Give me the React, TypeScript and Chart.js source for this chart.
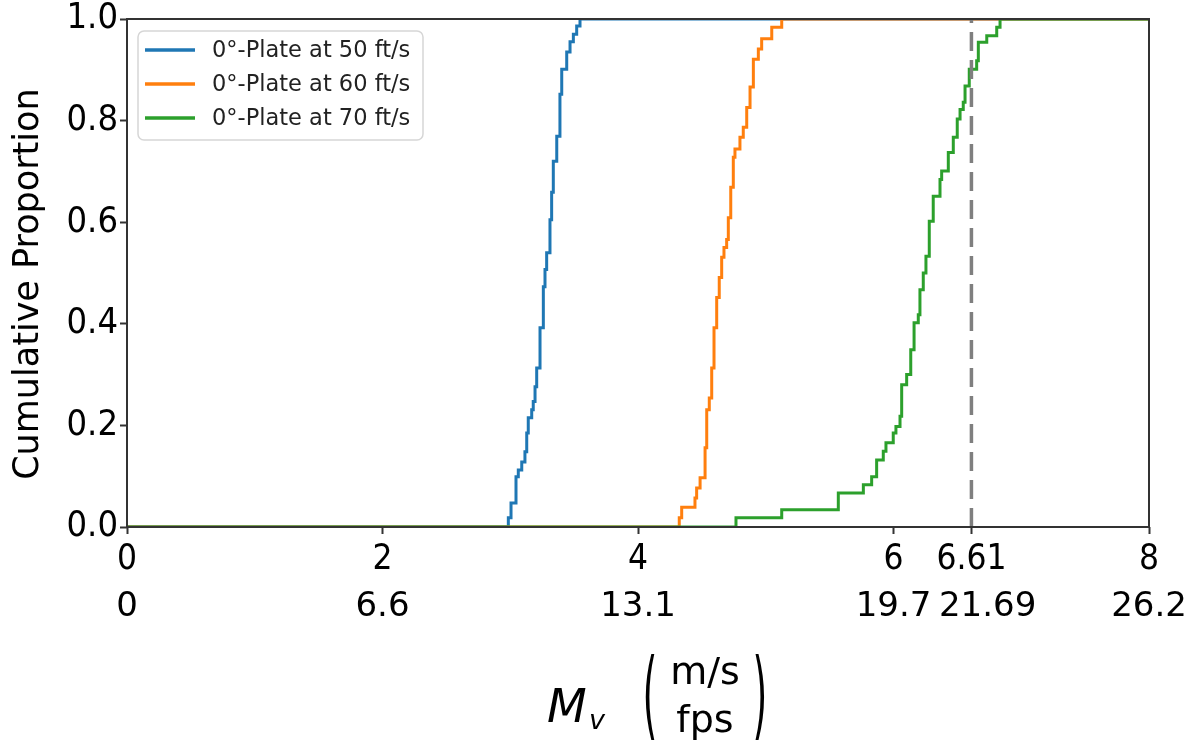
import React, { useEffect, useRef } from 'react';
import { Chart, registerables } from 'chart.js';

Chart.register(...registerables);

const seriesLabels = ['0°-Plate at 50 ft/s', '0°-Plate at 60 ft/s', '0°-Plate at 70 ft/s'];
const seriesColors = ['#1f77b4', '#ff7f0e', '#2ca02c'];

// Empirical CDF steps: x where the step rises, y reached after the rise
const blueX = [2.985, 3.006, 3.045, 3.063, 3.09, 3.115, 3.129, 3.141, 3.168, 3.18, 3.194, 3.207, 3.233, 3.259, 3.272, 3.285, 3.311, 3.324, 3.337, 3.364, 3.389, 3.403, 3.442, 3.468, 3.494, 3.52, 3.546];
const blueY = [0.018, 0.047, 0.099, 0.112, 0.128, 0.148, 0.185, 0.215, 0.231, 0.247, 0.276, 0.313, 0.392, 0.473, 0.507, 0.54, 0.605, 0.659, 0.72, 0.769, 0.852, 0.901, 0.935, 0.955, 0.97, 0.986, 1.0];

const orangeX = [4.323, 4.342, 4.446, 4.459, 4.486, 4.525, 4.538, 4.558, 4.577, 4.595, 4.616, 4.636, 4.655, 4.673, 4.694, 4.707, 4.726, 4.746, 4.759, 4.798, 4.824, 4.851, 4.877, 4.903, 4.942, 4.968, 5.047, 5.125];
const orangeY = [0.018, 0.039, 0.057, 0.077, 0.097, 0.156, 0.231, 0.254, 0.313, 0.392, 0.452, 0.491, 0.531, 0.55, 0.566, 0.609, 0.669, 0.728, 0.744, 0.767, 0.787, 0.826, 0.866, 0.921, 0.941, 0.961, 0.984, 1.0];

const greenX = [4.767, 5.125, 5.568, 5.764, 5.829, 5.868, 5.92, 5.941, 5.998, 6.019, 6.051, 6.064, 6.103, 6.135, 6.161, 6.194, 6.207, 6.233, 6.254, 6.28, 6.311, 6.364, 6.377, 6.429, 6.468, 6.499, 6.521, 6.546, 6.56, 6.593, 6.651, 6.664, 6.73, 6.808, 6.834];
const greenY = [0.018, 0.034, 0.067, 0.083, 0.099, 0.132, 0.149, 0.166, 0.185, 0.198, 0.218, 0.28, 0.3, 0.349, 0.402, 0.418, 0.467, 0.5, 0.533, 0.602, 0.651, 0.684, 0.701, 0.737, 0.767, 0.803, 0.822, 0.836, 0.868, 0.901, 0.918, 0.954, 0.967, 0.984, 1.0];

const refLineX = 6.61;
const xMin = 0;
const xMax = 8;
const xTickValues = [0, 2, 4, 6, 6.61, 8];
const xTickLabelsMs = ['0', '2', '4', '6', '6.61', '8'];
const xTickLabelsFps = ['0', '6.6', '13.1', '19.7', '   21.69', '26.2'];
const yTickValues = [0, 0.2, 0.4, 0.6, 0.8, 1.0];
const yTitle = 'Cumulative Proportion  ';

const narrowFamily = '"Liberation Sans Narrow", "DejaVu Sans Condensed", "DejaVu Sans"';

function stepPoints(xs: number[], ys: number[]) {
  return [{ x: xMin, y: 0 }, ...xs.map((x, i) => ({ x, y: ys[i] })), { x: xMax, y: 1 }];
}

const frameAndLegend = {
  id: 'frameAndLegend',
  afterDatasetsDraw(chart: any) {
    const { ctx, chartArea } = chart;
    const { left, top, right, bottom } = chartArea;
    ctx.save();
    ctx.strokeStyle = '#333333';
    ctx.lineWidth = 2;
    ctx.strokeRect(left, top, right - left, bottom - top);
    const bx = left + 11, by = top + 12, bw = 285, bh = 109, r = 6;
    ctx.beginPath();
    ctx.moveTo(bx + r, by);
    ctx.arcTo(bx + bw, by, bx + bw, by + bh, r);
    ctx.arcTo(bx + bw, by + bh, bx, by + bh, r);
    ctx.arcTo(bx, by + bh, bx, by, r);
    ctx.arcTo(bx, by, bx + bw, by, r);
    ctx.closePath();
    ctx.fillStyle = 'rgba(255,255,255,0.85)';
    ctx.fill();
    ctx.strokeStyle = '#d6d6d6';
    ctx.lineWidth = 1.5;
    ctx.stroke();
    ctx.font = '22.5px "DejaVu Sans"';
    ctx.textBaseline = 'middle';
    ctx.textAlign = 'left';
    seriesLabels.forEach((label, i) => {
      const yy = by + 19 + i * 34;
      ctx.strokeStyle = seriesColors[i];
      ctx.lineWidth = 3.5;
      ctx.beginPath();
      ctx.moveTo(bx + 7, yy);
      ctx.lineTo(bx + 57, yy);
      ctx.stroke();
      ctx.fillStyle = '#222222';
      ctx.fillText(label, bx + 74, yy + 1);
    });
    ctx.restore();
  },
};

const xTitlePlugin = {
  id: 'xTitlePlugin',
  afterDraw(chart: any) {
    const { ctx, chartArea } = chart;
    const cx = (chartArea.left + chartArea.right) / 2;
    ctx.save();
    ctx.fillStyle = '#000000';
    ctx.textBaseline = 'alphabetic';
    ctx.textAlign = 'left';
    ctx.font = 'italic 46px "DejaVu Sans"';
    ctx.fillText('M', cx - 91, 722);
    ctx.font = 'italic 27px "DejaVu Sans"';
    ctx.fillText('v', cx - 49, 729);
    const paren = (ch: string, x: number) => {
      ctx.save();
      ctx.translate(x, 696);
      ctx.scale(1, 2.55);
      ctx.font = '38px "DejaVu Sans"';
      ctx.textAlign = 'center';
      ctx.fillText(ch, 0, 12);
      ctx.restore();
    };
    paren('(', cx + 12);
    paren(')', cx + 122);
    ctx.font = '38px "DejaVu Sans"';
    ctx.textAlign = 'center';
    ctx.fillText('m/s', cx + 67, 684);
    ctx.fillText('fps', cx + 67, 732);
    ctx.restore();
  },
};

export default function App() {
  const canvasRef = useRef<HTMLCanvasElement | null>(null);

  useEffect(() => {
    if (!canvasRef.current) return;
    const chart = new Chart(canvasRef.current, {
      type: 'scatter',
      data: {
        datasets: [
          {
            label: seriesLabels[0],
            data: stepPoints(blueX, blueY),
            borderColor: seriesColors[0],
            backgroundColor: seriesColors[0],
            borderWidth: 3,
            showLine: true,
            stepped: true,
            pointRadius: 0,
            order: 4,
          },
          {
            label: seriesLabels[1],
            data: stepPoints(orangeX, orangeY),
            borderColor: seriesColors[1],
            backgroundColor: seriesColors[1],
            borderWidth: 3,
            showLine: true,
            stepped: true,
            pointRadius: 0,
            order: 3,
          },
          {
            label: seriesLabels[2],
            data: stepPoints(greenX, greenY),
            borderColor: seriesColors[2],
            backgroundColor: seriesColors[2],
            borderWidth: 3,
            showLine: true,
            stepped: true,
            pointRadius: 0,
            order: 2,
          },
          {
            label: 'ref',
            data: [
              { x: refLineX, y: 0 },
              { x: refLineX, y: 1 },
            ],
            borderColor: '#7f7f7f',
            borderWidth: 3.5,
            borderDash: [19, 9],
            showLine: true,
            pointRadius: 0,
            order: 1,
          },
        ],
      },
      options: {
        responsive: false,
        animation: false,
        layout: { padding: { left: 0, right: 42, top: 19, bottom: 117 } },
        plugins: {
          legend: { display: false },
          tooltip: { enabled: false },
          title: { display: false },
        },
        scales: {
          x: {
            type: 'linear',
            position: 'bottom',
            min: xMin,
            max: xMax,
            border: { display: false },
            grid: { display: true, drawOnChartArea: false, drawTicks: true, tickLength: 7, tickWidth: 2, color: '#333333' },
            ticks: {
              autoSkip: false,
              maxRotation: 0,
              color: '#000000',
              font: { family: narrowFamily, size: 35, lineHeight: 1.0 },
              padding: 8,
              callback: (_v: any, i: number) => xTickLabelsMs[i],
            },
            afterBuildTicks: (axis: any) => {
              axis.ticks = xTickValues.map((v) => ({ value: v }));
            },
            afterFit: (axis: any) => {
              axis.height = 52;
              axis.paddingLeft = 0;
              axis.paddingRight = 0;
            },
          },
          x2: {
            type: 'linear',
            position: 'bottom',
            min: xMin,
            max: xMax,
            border: { display: false },
            grid: { display: false, drawTicks: false },
            ticks: {
              autoSkip: false,
              maxRotation: 0,
              color: '#000000',
              font: { family: 'DejaVu Sans', size: 34 },
              padding: 8,
              callback: (_v: any, i: number) => xTickLabelsFps[i],
            },
            afterBuildTicks: (axis: any) => {
              axis.ticks = xTickValues.map((v) => ({ value: v }));
            },
            afterFit: (axis: any) => {
              axis.height = 48;
              axis.paddingLeft = 0;
              axis.paddingRight = 0;
            },
          },
          y: {
            type: 'linear',
            min: 0,
            max: 1,
            border: { display: false },
            grid: { display: true, drawOnChartArea: false, drawTicks: true, tickLength: 7, tickWidth: 2, color: '#333333' },
            ticks: {
              color: '#000000',
              font: { family: narrowFamily, size: 36 },
              padding: 2,
              callback: (v: any) => Number(v).toFixed(1),
            },
            afterBuildTicks: (axis: any) => {
              axis.ticks = yTickValues.map((v) => ({ value: v }));
            },
            title: {
              display: true,
              text: yTitle,
              color: '#000000',
              font: { family: 'DejaVu Sans', size: 35 },
              padding: { top: 8, bottom: 0 },
            },
            afterFit: (axis: any) => {
              axis.width = 127;
              axis.paddingTop = 0;
              axis.paddingBottom = 0;
            },
          },
        },
      },
      plugins: [frameAndLegend, xTitlePlugin],
    });
    return () => chart.destroy();
  }, []);

  return (
    <div style={{ position: 'fixed', left: 0, top: 0, width: 1191, height: 744, background: '#ffffff' }}>
      <canvas ref={canvasRef} width={1191} height={744} />
    </div>
  );
}
